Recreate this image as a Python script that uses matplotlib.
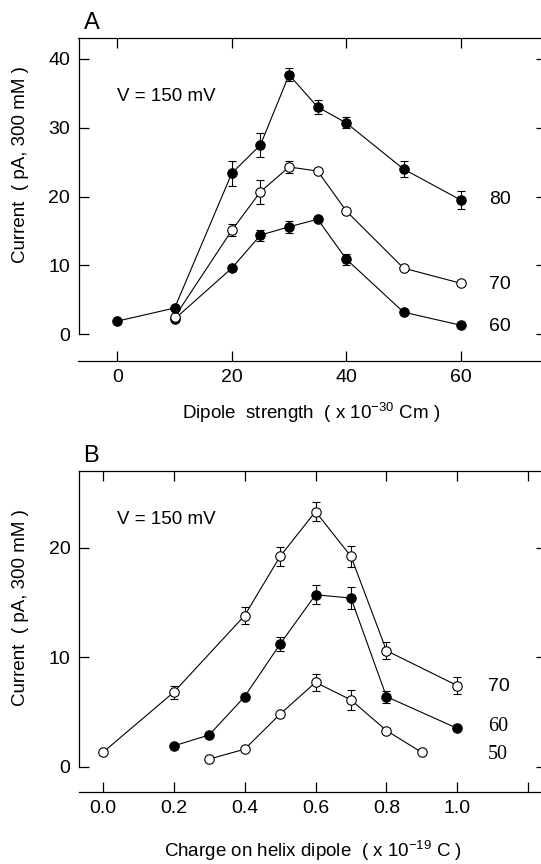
import numpy as np
import matplotlib
matplotlib.use("Agg")
import matplotlib.pyplot as plt

plt.rcParams['font.family'] = ['Liberation Sans', 'DejaVu Sans']
plt.rcParams['mathtext.default'] = 'regular'

# panel A data: dipole strength (x 10^-30 Cm) vs current
a_x80 = np.array([0, 10, 20, 25, 30, 35, 40, 50, 60])
a_y80 = np.array([1.9, 3.8, 23.4, 27.5, 37.7, 33.0, 30.7, 24.0, 19.5])
a_e80 = np.array([0, 0, 1.8, 1.7, 0.95, 1.0, 0.8, 1.2, 1.3])

a_x70 = np.array([10, 20, 25, 30, 35, 40, 50, 60])
a_y70 = np.array([2.5, 15.1, 20.7, 24.3, 23.7, 17.9, 9.6, 7.4])
a_e70 = np.array([0, 0.9, 1.75, 0.9, 0, 0, 0, 0])

a_x60 = np.array([10, 20, 25, 30, 35, 40, 50, 60])
a_y60 = np.array([2.2, 9.6, 14.4, 15.6, 16.7, 10.9, 3.2, 1.3])
a_e60 = np.array([0, 0, 0.8, 0.85, 0, 0.8, 0, 0])

# panel B data: charge on helix dipole (x 10^-19 C) vs current
b_x70 = np.array([0.0, 0.2, 0.4, 0.5, 0.6, 0.7, 0.8, 1.0])
b_y70 = np.array([1.3, 6.8, 13.8, 19.2, 23.3, 19.2, 10.6, 7.4])
b_e70 = np.array([0, 0.6, 0.75, 0.9, 0.9, 0.95, 0.75, 0.8])

b_x60 = np.array([0.2, 0.3, 0.4, 0.5, 0.6, 0.7, 0.8, 1.0])
b_y60 = np.array([1.9, 2.9, 6.4, 11.2, 15.7, 15.4, 6.4, 3.5])
b_e60 = np.array([0, 0, 0, 0.6, 0.85, 1.0, 0.55, 0])

b_x50 = np.array([0.3, 0.4, 0.5, 0.6, 0.7, 0.8, 0.9])
b_y50 = np.array([0.7, 1.6, 4.8, 7.7, 6.1, 3.3, 1.3])
b_e50 = np.array([0, 0, 0, 0.8, 0.9, 0, 0])

W, H = 541, 864
fig = plt.figure(figsize=(W / 100, H / 100), dpi=100)


def px_axes(l, r, t, b):
    return fig.add_axes([l / W, 1 - b / H, (r - l) / W, (b - t) / H])


def series(ax, x, y, e, filled):
    m = e > 0
    ax.errorbar(x[m], y[m], yerr=e[m], fmt='none', ecolor='k', elinewidth=0.8,
                capsize=3.2, capthick=0.8, zorder=2)
    ax.plot(x, y, '-', color='k', lw=0.8, marker='o', ms=6.8,
            mfc='k' if filled else 'white', mec='k', mew=0.8, zorder=3)


def style(ax, ytop):
    ax.spines['left'].set_bounds(0, ytop)
    ax.spines['right'].set_bounds(0, ytop)
    for s in ax.spines.values():
        s.set_linewidth(0.9)
    ax.tick_params(direction='in', length=7, width=0.9, top=True, right=True,
                   labelsize=14, pad=6)


# ---- panel A ----
axA = px_axes(78.5, 546, 38.3, 361)
series(axA, a_x60, a_y60, a_e60, True)
series(axA, a_x70, a_y70, a_e70, False)
series(axA, a_x80, a_y80, a_e80, True)
axA.set_xlim(-6.8, 74.9)
axA.set_ylim(-3.9, 43.0)
axA.set_xticks([0, 20, 40, 60])
axA.set_yticks([0, 10, 20, 30, 40])
style(axA, 43.0)
axA.text(-0.1, 34.5, 'V = 150 mV', fontsize=13.5, va='center')
axA.text(65, 19.5, '80', fontsize=14, va='center')
axA.text(65, 7.2, '70', fontsize=14, va='center')
axA.text(65, 1.1, '60', fontsize=14, va='center')

fig.text(83.5 / W, 1 - 23 / H, 'A', fontsize=17, va='center')
fig.text(21 / W, 1 - 165 / H, 'Current  ( pA, 300 mM )', rotation=90,
         fontsize=13.5, ha='center', va='center')
fig.text(311 / W, 1 - 413 / H, 'Dipole  strength  ( x 10$^{-30}$ Cm )',
         fontsize=13.5, ha='center', va='center')

# ---- panel B ----
axB = px_axes(78.7, 546, 471, 791.7)
series(axB, b_x70, b_y70, b_e70, False)
series(axB, b_x60, b_y60, b_e60, True)
series(axB, b_x50, b_y50, b_e50, False)
axB.set_xlim(-0.068, 1.25)
axB.set_ylim(-2.28, 27.0)
axB.set_xticks([0.0, 0.2, 0.4, 0.6, 0.8, 1.0, 1.2])
axB.set_xticklabels(['0.0', '0.2', '0.4', '0.6', '0.8', '1.0', ''])
axB.set_yticks([0, 10, 20])
style(axB, 27.0)
axB.text(0.039, 22.6, 'V = 150 mV', fontsize=13.5, va='center')
axB.text(1.086, 7.37, '70', fontsize=14, va='center')
axB.text(1.086, 3.63, '60', fontsize=14.5, va='center', family='Liberation Serif')
axB.text(1.086, 1.16, '50', fontsize=14.5, va='center', family='Liberation Serif')

fig.text(83.5 / W, 1 - 455.7 / H, 'B', fontsize=17, va='center')
fig.text(21 / W, 1 - 608 / H, 'Current  ( pA, 300 mM )', rotation=90,
         fontsize=13.5, ha='center', va='center')
fig.text(313 / W, 1 - 851 / H, 'Charge on helix dipole  ( x 10$^{-19}$ C )',
         fontsize=13.5, ha='center', va='center')

fig.savefig('out.png', dpi=100)
